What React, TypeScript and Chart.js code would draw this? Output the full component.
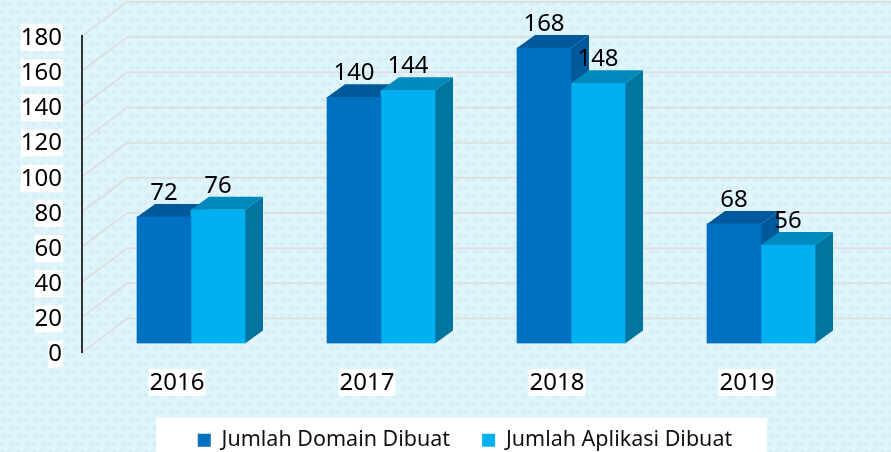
import React, { useEffect, useRef } from "react";
import { Chart, registerables } from "chart.js";

Chart.register(...registerables);

const categories = ["2016", "2017", "2018", "2019"];
const domainValues = [72, 140, 168, 68];
const aplikasiValues = [76, 144, 148, 56];
const seriesNames = ["Jumlah Domain Dibuat", "Jumlah Aplikasi Dibuat"];

const FONT = '"Noto Sans", sans-serif';
const frontColors = ["#0070C0", "#00B0F0"];
const topColors = ["#00599A", "#0089BC"];
const sideColors = ["#00599A", "#00759F"];

function makeTile() {
  const c = document.createElement("canvas");
  c.width = 16;
  c.height = 16;
  const x = c.getContext("2d")!;
  x.fillStyle = "#e1f6fc";
  x.fillRect(0, 0, 16, 16);
  x.filter = "blur(0.9px)";
  x.strokeStyle = "#c8e6f0";
  x.lineWidth = 1.8;
  for (const [ox, oy] of [[0, 0], [8, 8], [-8, 8], [0, 16], [8, -8], [-8, -8]]) {
    x.beginPath();
    x.moveTo(ox + 1, oy + 2);
    x.lineTo(ox + 5, oy + 6);
    x.moveTo(ox + 11, oy + 2);
    x.lineTo(ox + 8, oy + 5);
    x.stroke();
  }
  return c;
}

const scene = {
  id: "scene",
  afterLayout(chart: any) {
    chart.legend.left += 3;
    chart.legend.right += 3;
  },
  beforeDraw(chart: any) {
    const { ctx, scales } = chart;
    ctx.save();
    ctx.fillStyle = ctx.createPattern(makeTile(), "repeat");
    ctx.fillRect(0, 0, chart.width, chart.height);

    // white plates behind the axis labels and legend
    ctx.fillStyle = "#ffffff";
    ctx.font = `24px ${FONT}`;
    scales.y.ticks.forEach((t: any, i: number) => {
      const w = ctx.measureText(String(t.value)).width;
      const py = scales.y.getPixelForTick(i);
      ctx.fillRect(62 - w, py - 12, w + 1, 27);
    });
    categories.forEach((c, i) => {
      const w = ctx.measureText(c).width;
      ctx.fillRect(scales.x.getPixelForTick(i) - w / 2 - 1, 369, w + 2, 27);
    });
    ctx.fillRect(156, 418, 611, 34);

    // gridlines running back along the side wall and across the rear wall
    ctx.strokeStyle = "#dde0e1";
    ctx.lineWidth = 2;
    scales.y.ticks.forEach((_: any, i: number) => {
      const py = scales.y.getPixelForTick(i);
      ctx.beginPath();
      ctx.moveTo(scales.y.right, py);
      ctx.lineTo(scales.y.right + 45, py - 34);
      ctx.lineTo(chart.width, py - 34);
      ctx.stroke();
    });
    ctx.restore();
  },
  beforeDatasetsDraw(chart: any) {
    const { ctx } = chart;
    ctx.save();
    ctx.translate(14, -9);
    const dx = 18;
    const dy = 13;
    categories.forEach((_, idx) => {
      [0, 1].forEach((ds) => {
        const b = chart.getDatasetMeta(ds).data[idx];
        const l = b.x - b.width / 2;
        const r = b.x + b.width / 2;
        ctx.fillStyle = sideColors[ds];
        ctx.beginPath();
        ctx.moveTo(r, b.y);
        ctx.lineTo(r + dx, b.y - dy);
        ctx.lineTo(r + dx, b.base - dy);
        ctx.lineTo(r, b.base);
        ctx.closePath();
        ctx.fill();
        ctx.fillStyle = topColors[ds];
        ctx.beginPath();
        ctx.moveTo(l, b.y);
        ctx.lineTo(l + dx, b.y - dy);
        ctx.lineTo(r + dx, b.y - dy);
        ctx.lineTo(r, b.y);
        ctx.closePath();
        ctx.fill();
      });
    });
  },
  afterDatasetsDraw(chart: any) {
    const { ctx } = chart;
    ctx.fillStyle = "#000000";
    ctx.font = `24px ${FONT}`;
    ctx.textAlign = "center";
    ctx.textBaseline = "middle";
    [0, 1].forEach((ds) => {
      chart.getDatasetMeta(ds).data.forEach((b: any, i: number) => {
        ctx.fillText(String(chart.data.datasets[ds].data[i]), b.x, b.y - 24);
      });
    });
    ctx.restore();
  },
};

export default function App() {
  const ref = useRef<HTMLCanvasElement>(null);
  useEffect(() => {
    const chart = new Chart(ref.current!, {
      type: "bar",
      data: {
        labels: categories,
        datasets: [
          { label: seriesNames[0], data: domainValues, backgroundColor: frontColors[0], barThickness: 54, borderWidth: 0 },
          { label: seriesNames[1], data: aplikasiValues, backgroundColor: frontColors[1], barThickness: 54, borderWidth: 0 },
        ],
      },
      plugins: [scene],
      options: {
        animation: false,
        responsive: false,
        layout: { padding: { left: 0, right: 49, top: 36, bottom: -9 } },
        plugins: {
          tooltip: { enabled: false },
          legend: {
            position: "bottom",
            fullSize: false,
            labels: {
              boxWidth: 13,
              boxHeight: 13,
              padding: 32,
              color: "#111111",
              font: { family: FONT, size: 21.5 },
            },
          },
        },
        scales: {
          x: {
            grid: { display: false, drawTicks: false },
            border: { display: false },
            ticks: { color: "#000000", padding: 16, font: { family: FONT, size: 24 } },
            afterFit: (s: any) => { s.height = 45; },
          },
          y: {
            min: 0,
            max: 180,
            grid: { display: false, drawTicks: false },
            border: { display: true, color: "#333333", width: 2 },
            ticks: { stepSize: 20, color: "#000000", padding: 20, labelOffset: 2, font: { family: FONT, size: 24 } },
            afterFit: (s: any) => { s.width = 82; },
          },
        },
      } as any,
    });
    return () => chart.destroy();
  }, []);
  return (
    <div style={{ position: "absolute", left: 0, top: 0, width: 891, height: 452 }}>
      <canvas ref={ref} width={891} height={452} style={{ display: "block" }} />
    </div>
  );
}
